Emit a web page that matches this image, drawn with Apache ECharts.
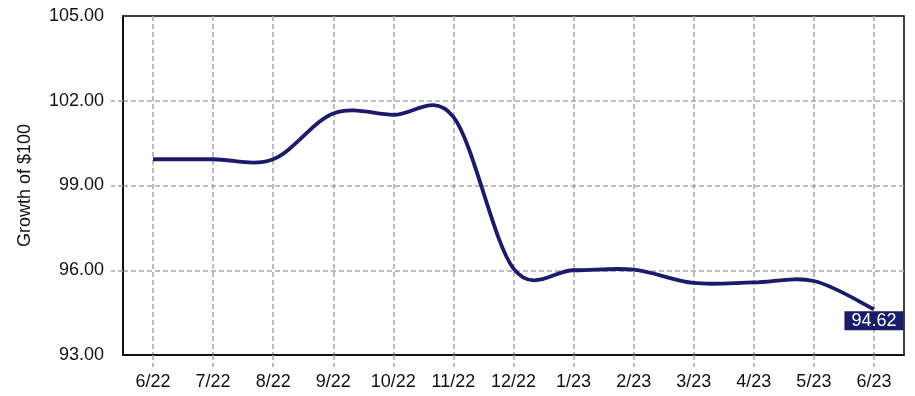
<!DOCTYPE html>
<html>
<head>
<meta charset="utf-8">
<script src="https://cdn.jsdelivr.net/npm/echarts@6/dist/echarts.min.js"></script>
<style>html,body{margin:0;padding:0;background:#fff;}#c{width:915px;height:396px;}</style>
</head>
<body>
<div id="c"></div>
<script>
const categories = ['6/22','7/22','8/22','9/22','10/22','11/22','12/22','1/23','2/23','3/23','4/23','5/23','6/23'];
const growthValues = [99.93, 99.93, 99.93, 101.55, 101.5, 101.43, 96.06, 96.0, 96.02, 95.55, 95.57, 95.62, 94.62];
const yTicks = [93, 96, 99, 102, 105];
const lastLabelValue = growthValues[growthValues.length - 1];

const navy = '#1b1a6b';
const gridGrey = '#a6a6a6';
const font = 'Liberation Sans, Arial, sans-serif';

const seriesData = growthValues.map((v, i) => [i, v]);

function renderSpline(params, api) {
  const n = params.dataInsideLength;
  if (params.dataIndexInside !== 0) return null;
  const pts = [];
  for (let k = 0; k < n; k++) pts.push(api.coord([api.value(0, k), api.value(1, k)]));
  const P = k => pts[Math.max(0, Math.min(n - 1, k))];
  let d = 'M' + pts[0][0] + ' ' + pts[0][1];
  for (let i = 0; i < n - 1; i++) {
    const p0 = P(i - 1), p1 = P(i), p2 = P(i + 1), p3 = P(i + 2);
    const c1x = p1[0] + (p2[0] - p0[0]) / 6, c1y = p1[1] + (p2[1] - p0[1]) / 6;
    const c2x = p2[0] - (p3[0] - p1[0]) / 6, c2y = p2[1] - (p3[1] - p1[1]) / 6;
    d += ' C' + c1x + ' ' + c1y + ' ' + c2x + ' ' + c2y + ' ' + p2[0] + ' ' + p2[1];
  }
  return {
    type: 'path',
    shape: {pathData: d},
    style: {stroke: navy, lineWidth: 3.8, fill: null, lineJoin: 'round', lineCap: 'butt'}
  };
}

const chart = echarts.init(document.getElementById('c'), null, {renderer: 'canvas'});
chart.setOption({
  animation: false,
  grid: {left: 123, right: 11, top: 16, bottom: 41, show: true, borderColor: '#000', borderWidth: 1.5, backgroundColor: 'transparent'},
  xAxis: {
    type: 'category',
    data: categories,
    boundaryGap: true,
    axisLine: {show: true, lineStyle: {color: '#000', width: 1.5}},
    axisTick: {show: true, alignWithLabel: true, length: 12, lineStyle: {color: gridGrey, type: [5, 3], width: 1.5}},
    splitLine: {show: true, alignWithLabel: true, lineStyle: {color: gridGrey, type: [5, 3], width: 1.5}},
    axisLabel: {color: '#111', fontSize: 18, fontFamily: font, margin: 18, interval: 0}
  },
  yAxis: {
    type: 'value',
    min: yTicks[0],
    max: yTicks[yTicks.length - 1],
    interval: 3,
    name: 'Growth of $100',
    nameLocation: 'middle',
    nameGap: 89,
    nameRotate: 90,
    nameTextStyle: {color: '#111', fontSize: 18, fontFamily: font},
    axisLine: {show: true, lineStyle: {color: '#000', width: 1.5}},
    axisTick: {show: true, length: 12, customValues: [96, 99, 102], lineStyle: {color: gridGrey, type: [5, 3], width: 1.5}},
    splitLine: {show: true, lineStyle: {color: gridGrey, type: [5, 3], width: 1.5}},
    axisLabel: {color: '#111', fontSize: 18, fontFamily: font, margin: 19, formatter: v => v.toFixed(2)}
  },
  series: [{
    type: 'custom',
    data: seriesData,
    encode: {x: 0, y: 1},
    renderItem: renderSpline,
    z: 3
  }, {
    type: 'scatter',
    data: [[categories.length - 1, lastLabelValue]],
    symbolSize: 0,
    z: 4,
    itemStyle: {opacity: 1},
    emphasis: {disabled: true},
    label: {
      show: true,
      position: 'bottom',
      distance: 2,
      opacity: 1,
      formatter: p => p.value[1].toFixed(2),
      color: '#fff',
      backgroundColor: navy,
      fontSize: 18,
      fontFamily: font,
      padding: [1, 7, 0, 7]
    }
  }]
});
</script>
</body>
</html>
